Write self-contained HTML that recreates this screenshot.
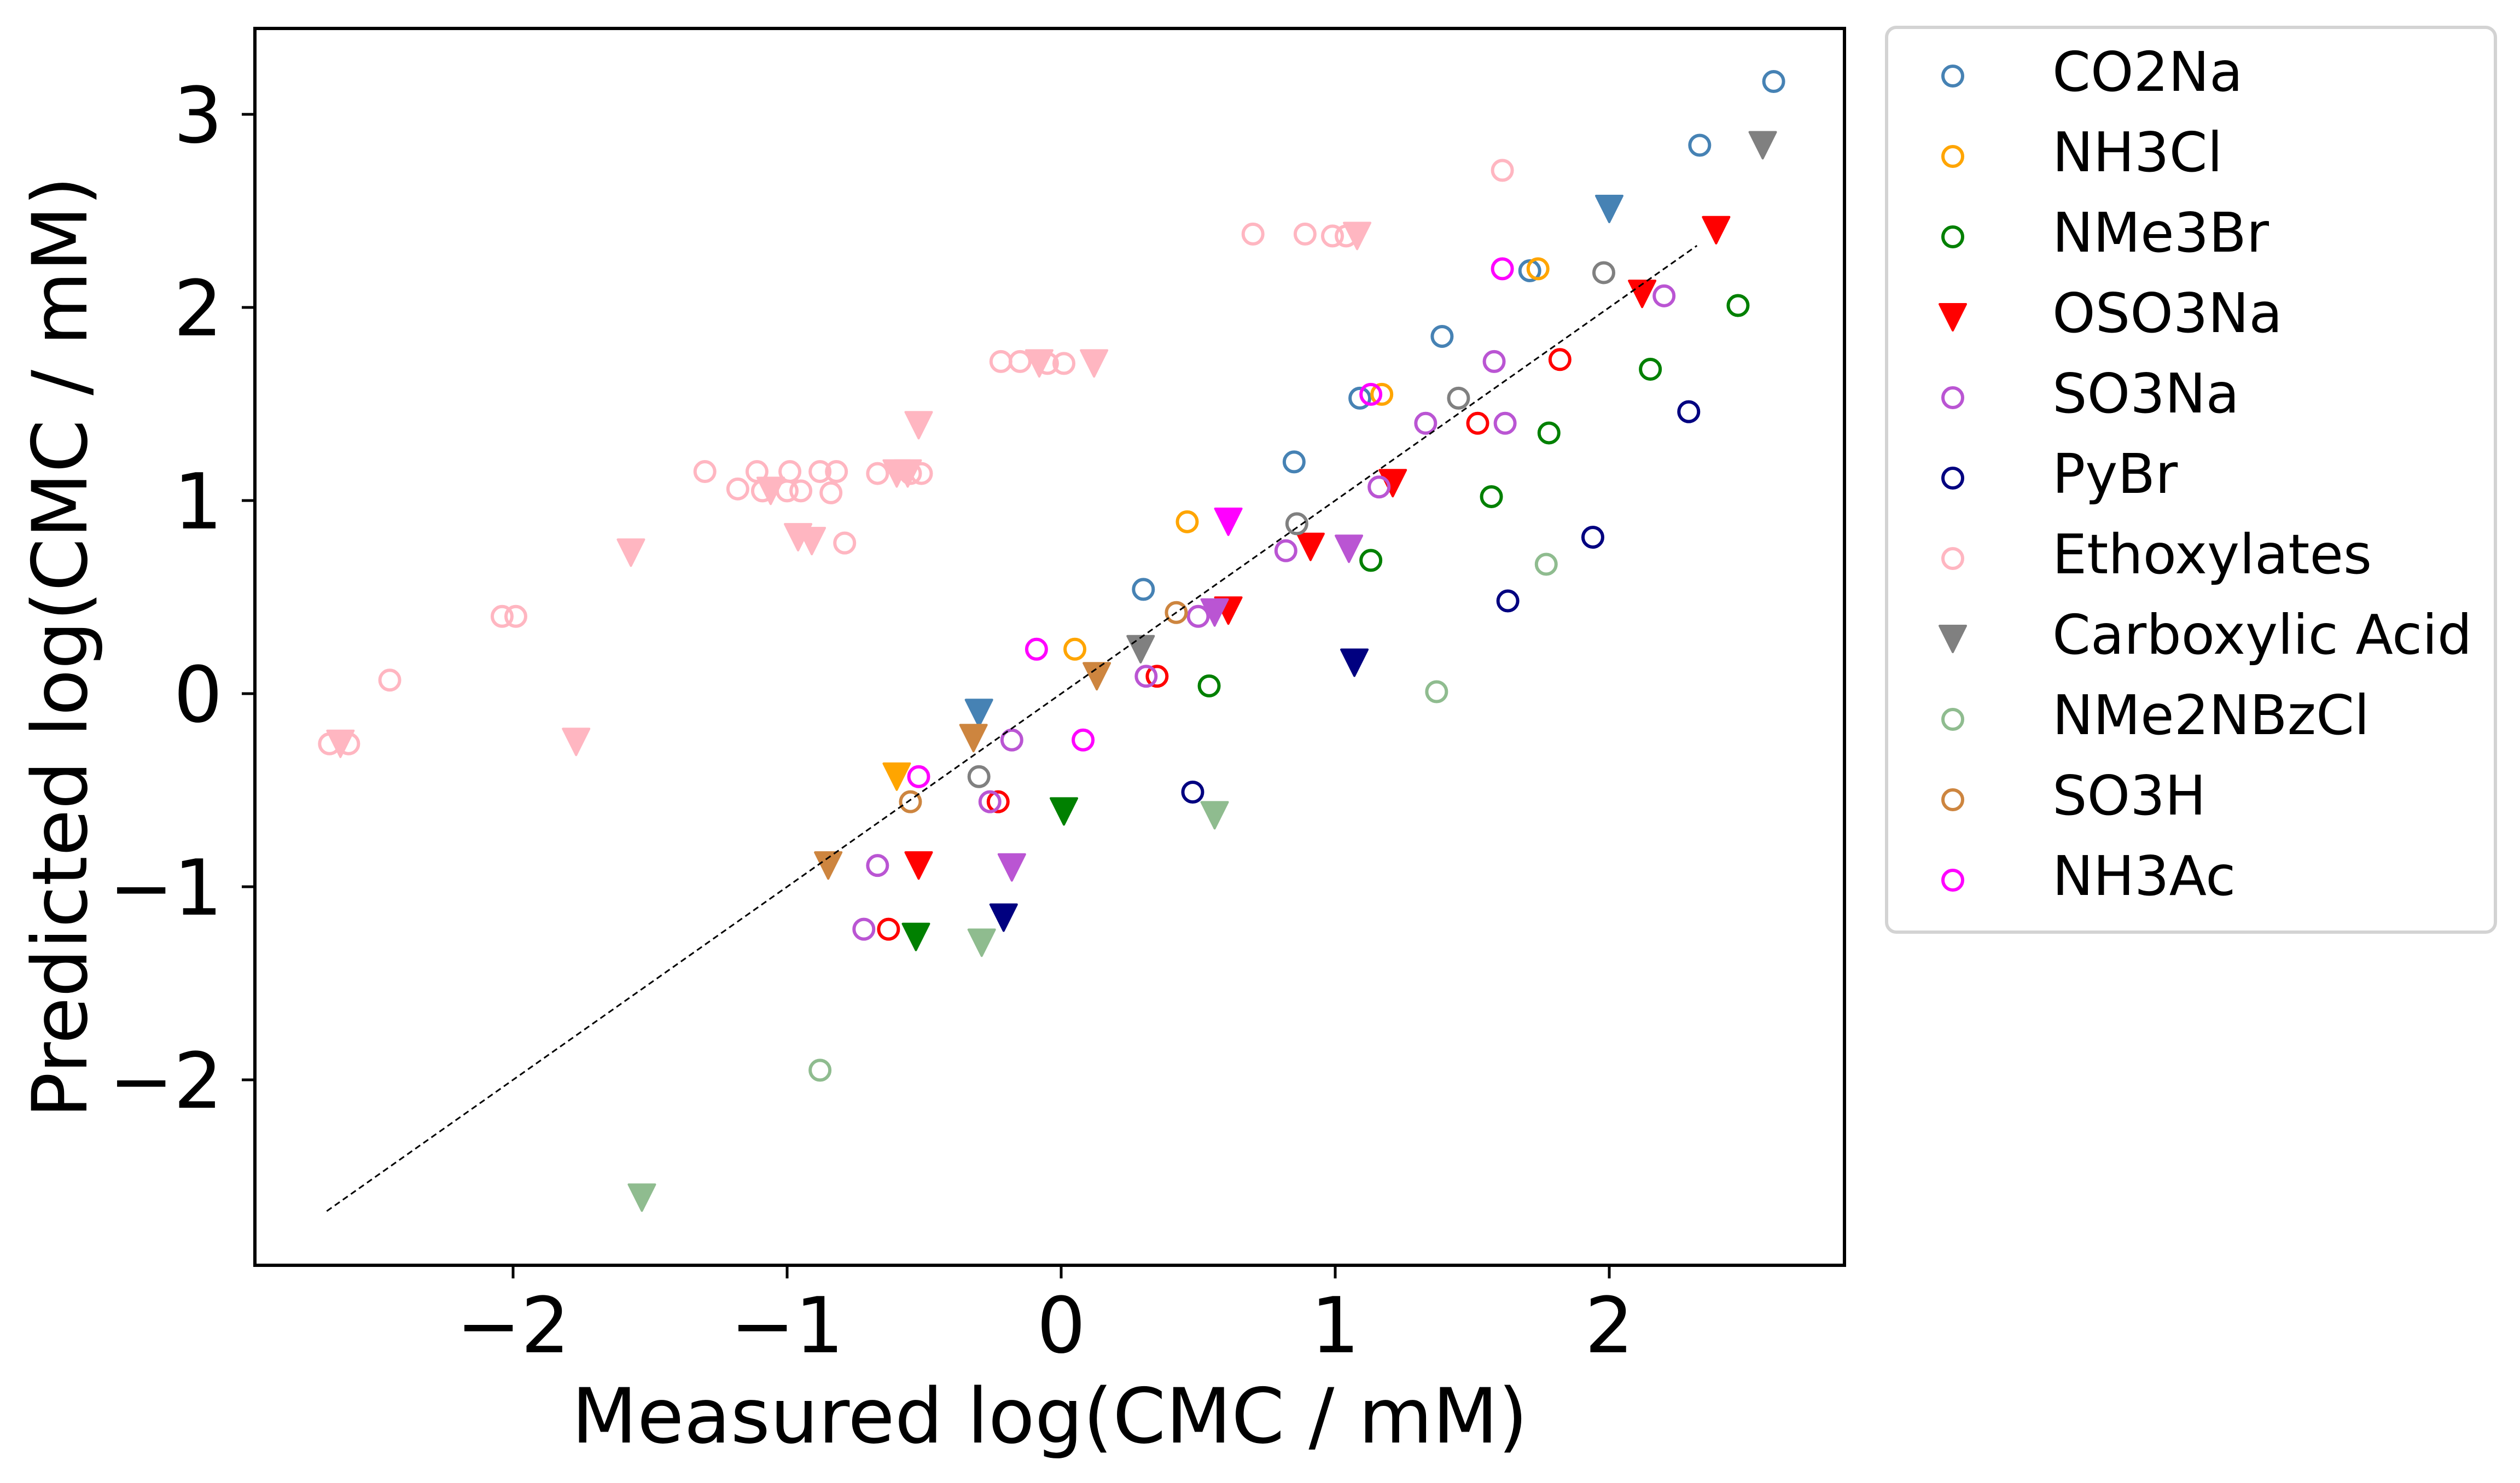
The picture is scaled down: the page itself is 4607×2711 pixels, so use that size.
<!DOCTYPE html>
<html><head><meta charset="utf-8"><style>
html,body{margin:0;padding:0;background:#fff;}
svg{display:block;font-family:"DejaVu Sans","Liberation Sans",sans-serif;}
</style></head><body>
<svg id="chart" width="4607" height="2711" viewBox="0 0 4607 2711" xmlns="http://www.w3.org/2000/svg">
<rect width="4607" height="2711" fill="#fff"/>
<g id="marks"></g>
<rect x="466" y="52" width="2906" height="2261" fill="none" stroke="#000" stroke-width="6"/>
<g id="axes"></g>
<text x="1919" y="2637" font-size="139" text-anchor="middle">Measured log(CMC / mM)</text>
<text transform="translate(158,1183) rotate(-90)" font-size="139" text-anchor="middle">Predicted log(CMC / mM)</text>
<rect x="3449" y="50" width="1113" height="1654" rx="18" fill="#fff" stroke="#d3d3d3" stroke-width="6"/>
<g id="legend"></g>
</svg>
<script>
const seriesNames = ["CO2Na","NH3Cl","NMe3Br","OSO3Na","SO3Na","PyBr","Ethoxylates","Carboxylic Acid","NMe2NBzCl","SO3H","NH3Ac"];
const seriesColors = ["#4682b4","#ffa500","#008000","#ff0000","#ba55d3","#000080","#ffb6c1","#808080","#8fbc8f","#cd853f","#ff00ff"];
const legendMarker = ["o","o","o","v","o","o","o","v","o","o","o"];
const xTicks = [-2,-1,0,1,2];
const yTicks = [-2,-1,0,1,2,3];
const circlesX = [
 [2.60,2.33,1.39,1.71,1.09,0.85,0.30],
 [1.74,1.17,0.46,0.05],
 [2.47,2.15,1.78,1.57,1.13,0.54],
 [1.82,1.52,0.35,-0.23,-0.63],
 [2.20,1.58,1.62,1.33,1.16,0.82,0.50,0.31,-0.18,-0.26,-0.67,-0.72],
 [2.29,1.94,1.63,0.48],
 [1.61,0.70,0.89,0.99,1.04,-0.22,-0.15,-0.05,0.01,-1.30,-1.11,-0.99,-0.88,-0.82,-0.67,-0.55,-0.51,-1.18,-1.09,-1.00,-0.95,-0.84,-0.79,-2.04,-1.99,-2.45,-2.67,-2.60],
 [1.98,1.45,0.86,-0.30],
 [1.77,1.37,-0.88],
 [0.42,-0.55],
 [1.61,1.13,-0.09,0.08,-0.52]
];
const circlesY = [
 [3.17,2.84,1.85,2.19,1.53,1.20,0.54],
 [2.20,1.55,0.89,0.23],
 [2.01,1.68,1.35,1.02,0.69,0.04],
 [1.73,1.40,0.09,-0.56,-1.22],
 [2.06,1.72,1.40,1.40,1.07,0.74,0.40,0.09,-0.24,-0.56,-0.89,-1.22],
 [1.46,0.81,0.48,-0.51],
 [2.71,2.38,2.38,2.37,2.37,1.72,1.72,1.71,1.71,1.15,1.15,1.15,1.15,1.15,1.14,1.14,1.14,1.06,1.05,1.05,1.05,1.04,0.78,0.40,0.40,0.07,-0.26,-0.26],
 [2.18,1.53,0.88,-0.43],
 [0.67,0.01,-1.95],
 [0.42,-0.56],
 [2.20,1.55,0.23,-0.24,-0.43]
];
const trianglesX = [
 [2.00,-0.30],
 [-0.60],
 [0.01,-0.53],
 [2.39,2.12,1.21,0.91,0.61,-0.52],
 [1.05,0.56,-0.18],
 [1.07,-0.21],
 [1.08,-0.08,0.12,-0.52,-0.60,-0.56,-1.06,-0.96,-0.91,-1.57,-1.77,-2.63],
 [2.56,0.29],
 [0.56,-0.29,-1.53],
 [0.13,-0.32,-0.85],
 [0.61]
];
const trianglesY = [
 [2.51,-0.10],
 [-0.43],
 [-0.61,-1.26],
 [2.40,2.07,1.09,0.76,0.43,-0.89],
 [0.75,0.42,-0.90],
 [0.16,-1.16],
 [2.37,1.71,1.71,1.39,1.14,1.14,1.05,0.81,0.79,0.73,-0.25,-0.26],
 [2.84,0.23],
 [-0.63,-1.29,-2.61],
 [0.09,-0.23,-0.89],
 [0.89]
];
const identityRange = [-2.68, 2.32];

const NS = "http://www.w3.org/2000/svg";
function sx(v){ return 1940 + 501*v; }
function sy(v){ return 1268 - 353*v; }
function mk(tag, attrs){ const e=document.createElementNS(NS,tag); for(const k in attrs) e.setAttribute(k,attrs[k]); return e; }
function circle(parent,x,y,c,name){
  const e=mk("circle",{cx:x,cy:y,r:18,fill:"none",stroke:c,"stroke-width":6});
  
  
  parent.appendChild(e);
}
function tri(parent,x,y,c,name){
  const h=24;
  const e=mk("path",{d:`M${x-h},${y-h}L${x+h},${y-h}L${x},${y+h}Z`,fill:c,stroke:c,"stroke-width":4,"stroke-linejoin":"round"});
  
  
  parent.appendChild(e);
}
const marks=document.getElementById("marks");
seriesNames.forEach((n,i)=>{
  const slug=n.toLowerCase().replace(/\s+/g,'-');
  circlesX[i].forEach((v,j)=>circle(marks,sx(v),sy(circlesY[i][j]),seriesColors[i],slug+'-point'));
  trianglesX[i].forEach((v,j)=>tri(marks,sx(v),sy(trianglesY[i][j]),seriesColors[i],slug+'-test-point'));
});
const line=mk("line",{x1:sx(identityRange[0]),y1:sy(identityRange[0]),x2:sx(identityRange[1]),y2:sy(identityRange[1]),stroke:"#000","stroke-width":3,"stroke-dasharray":"11,7"});


marks.appendChild(line);

const axes=document.getElementById("axes");
xTicks.forEach(t=>{
  const tk=mk("line",{x1:sx(t),y1:2313,x2:sx(t),y2:2337,stroke:"#000","stroke-width":5});
  
  
  axes.appendChild(tk);
  const lb=mk("text",{x:sx(t),y:2472,"font-size":141,"text-anchor":"middle"});
  lb.textContent=(t<0?"\u2212":"")+Math.abs(t);
  
  
  axes.appendChild(lb);
});
yTicks.forEach(t=>{
  const tk=mk("line",{x1:442,y1:sy(t),x2:466,y2:sy(t),stroke:"#000","stroke-width":5});
  
  
  axes.appendChild(tk);
  const lb=mk("text",{x:407,y:sy(t)+51,"font-size":141,"text-anchor":"end"});
  lb.textContent=(t<0?"\u2212":"")+Math.abs(t);
  
  
  axes.appendChild(lb);
});

const legend=document.getElementById("legend");
seriesNames.forEach((n,i)=>{
  const y=139+147*i;
  const g=mk("g",{});
  
  
  if(legendMarker[i]==="o") circle(g,3570,y,seriesColors[i],'legend-marker');
  else tri(g,3570,y,seriesColors[i],'legend-marker');
  const t=mk("text",{x:3752,y:y+27,"font-size":100});
  t.textContent=n;
  
  
  g.appendChild(t);
  legend.appendChild(g);
});
</script>
</body></html>
